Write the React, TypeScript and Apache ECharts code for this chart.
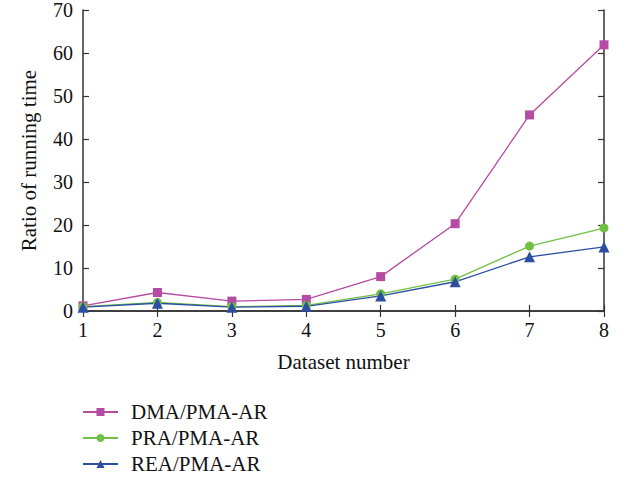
import React, { useEffect, useRef } from "react";
import * as echarts from "echarts";

const categories = ["1", "2", "3", "4", "5", "6", "7", "8"];
const dmaValues = [1.2, 4.3, 2.3, 2.7, 8.0, 20.3, 45.6, 61.9];
const praValues = [1.0, 2.0, 1.0, 1.3, 4.0, 7.4, 15.1, 19.3];
const reaValues = [0.9, 1.8, 0.9, 1.1, 3.5, 6.8, 12.6, 14.9];
const seriesNames = ["DMA/PMA-AR", "PRA/PMA-AR", "REA/PMA-AR"];
const colors = ["#b64ba3", "#72c043", "#2c4ea3"];

const FONT = "Liberation Serif";

export default function App() {
  const ref = useRef<HTMLDivElement>(null);
  useEffect(() => {
    if (!ref.current) return;
    const chart = echarts.init(ref.current, undefined, { renderer: "svg" });
    const axisLine = { show: true, lineStyle: { color: "#333", width: 1.5 } };
    const tick = { show: true, inside: true, length: 6, lineStyle: { color: "#333", width: 1.2 } };
    const labelStyle = { fontFamily: FONT, fontSize: 20, color: "#111" };
    const nameStyle = { fontFamily: FONT, fontSize: 21, color: "#111" };
    chart.setOption({
      animation: false,
      backgroundColor: "#fff",
      grid: { left: 83, right: 25, top: 10, bottom: 169, containLabel: false },
      legend: {
        orient: "vertical",
        left: 82,
        top: 399,
        padding: 0,
        itemWidth: 35,
        itemHeight: 10,
        itemGap: 0,
        textStyle: { fontFamily: FONT, fontSize: 21, lineHeight: 26, color: "#111", padding: [0, 0, 0, 8] },
        data: seriesNames,
      },
      xAxis: [
        {
          type: "category",
          data: categories,
          boundaryGap: false,
          axisLine,
          axisTick: { ...tick, alignWithLabel: true },
          axisLabel: { ...labelStyle, margin: 9 },
          splitLine: { show: false },
          name: "Dataset number",
          nameLocation: "middle",
          nameGap: 40,
          nameTextStyle: nameStyle,
        },
        {
          type: "category",
          data: categories,
          boundaryGap: false,
          position: "top",
          axisLine,
          axisTick: tick,
          axisLabel: { show: false },
          splitLine: { show: false },
        },
      ],
      yAxis: [
        {
          type: "value",
          min: 0,
          max: 70,
          interval: 10,
          axisLine,
          axisTick: tick,
          axisLabel: { ...labelStyle, margin: 10 },
          splitLine: { show: false },
          name: "Ratio of running time",
          nameLocation: "middle",
          nameGap: 44,
          nameRotate: 90,
          nameTextStyle: nameStyle,
        },
        {
          type: "value",
          min: 0,
          max: 70,
          interval: 10,
          position: "right",
          axisLine,
          axisTick: tick,
          axisLabel: { show: false },
          splitLine: { show: false },
        },
      ],
      series: [
        {
          name: seriesNames[0],
          type: "line",
          data: dmaValues,
          symbol: "rect",
          symbolSize: 9,
          color: colors[0],
          lineStyle: { width: 1.3, color: colors[0] },
          itemStyle: { color: colors[0] },
        },
        {
          name: seriesNames[1],
          type: "line",
          data: praValues,
          symbol: "circle",
          symbolSize: 9,
          color: colors[1],
          lineStyle: { width: 1.3, color: colors[1] },
          itemStyle: { color: colors[1] },
        },
        {
          name: seriesNames[2],
          type: "line",
          data: reaValues,
          symbol: "triangle",
          symbolSize: 11,
          color: colors[2],
          lineStyle: { width: 1.3, color: colors[2] },
          itemStyle: { color: colors[2] },
        },
      ],
    });
    return () => chart.dispose();
  }, []);
  return <div ref={ref} style={{ width: 629, height: 480, position: "absolute", left: 0, top: 0 }} />;
}
